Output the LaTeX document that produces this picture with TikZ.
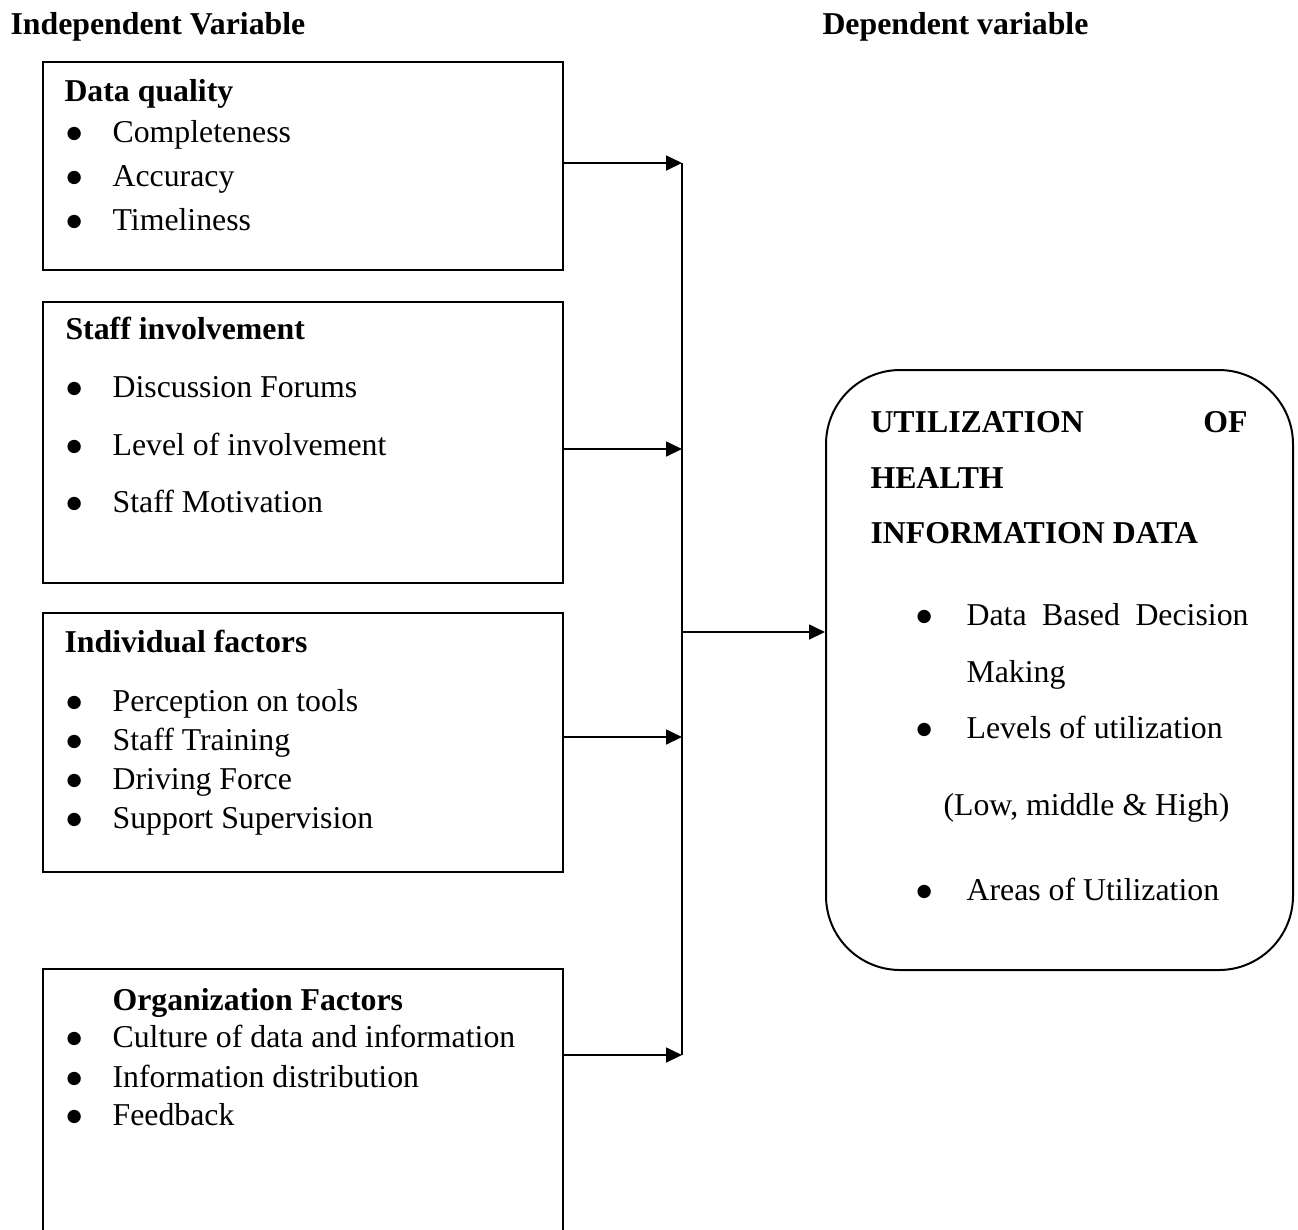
\documentclass[tikz,border=0pt]{standalone}
\usepackage{fontspec}
\setmainfont{Liberation Serif}
\newfontfamily\dvfont{DejaVu Sans}
\usetikzlibrary{arrows.meta,fit}
\newcommand\bigbul{\raisebox{1.2pt}{\dvfont\fontsize{6.6}{7}\selectfont ●}}
\newcommand\bl[1]{\makebox[17.4pt][l]{\bigbul}#1}
\newcommand\br[1]{\makebox[18.9pt][l]{\bigbul}#1}
\begin{document}
\begin{tikzpicture}[x=0.3774pt,y=-0.3774pt,
  lbl/.style={anchor=base west,inner sep=0pt,font=\fontsize{12}{14}\selectfont},
  hd/.style={anchor=base west,inner sep=0pt,font=\fontsize{12}{14}\selectfont\bfseries},
  box/.style={draw,line width=0.75pt,inner sep=0pt},
  arr/.style={line width=0.75pt,-{Triangle[length=6pt,width=5.6pt]}},
  link/.style={line width=0.75pt}]
\useasboundingbox (0,0) rectangle (1298,1229);

% headers
\node[hd] (iv) at (10,34) {Independent Variable};
\node[hd] (dv) at (822,34) {Dependent variable};

% boxes
\node[box,fit={(43,62)(563,270)}] (b1) {};
\node[box,fit={(43,302)(563,583)}] (b2) {};
\node[box,fit={(43,613)(563,872)}] (b3) {};
\node[box,fit={(43,969)(563,1250)}] (b4) {};
\node[box,rounded corners=28pt,fit={(826,370)(1293,970)}] (ub) {};

% box 1
\node[hd] (t1) at (64,101) {Data quality};
\node[lbl] (t1a) at (66,142) {\bl{Completeness}};
\node[lbl] (t1b) at (66,186) {\bl{Accuracy}};
\node[lbl] (t1c) at (66,230) {\bl{Timeliness}};

% box 2
\node[hd] (t2) at (65,339) {Staff involvement};
\node[lbl] (t2a) at (66,397) {\bl{Discussion Forums}};
\node[lbl] (t2b) at (66,455) {\bl{Level of involvement}};
\node[lbl] (t2c) at (66,512) {\bl{Staff Motivation}};

% box 3
\node[hd] (t3) at (64,652) {Individual factors};
\node[lbl] (t3a) at (66,711) {\bl{Perception on tools}};
\node[lbl] (t3b) at (66,750) {\bl{Staff Training}};
\node[lbl] (t3c) at (66,789) {\bl{Driving Force}};
\node[lbl] (t3d) at (66,828) {\bl{Support Supervision}};

% box 4
\node[hd] (t4) at (112,1010) {Organization Factors};
\node[lbl] (t4a) at (66,1047) {\bl{Culture of data and information}};
\node[lbl] (t4b) at (66,1087) {\bl{Information distribution}};
\node[lbl] (t4c) at (66,1125) {\bl{Feedback}};

% dependent box
\node[hd] (u1) at (870,432) {\makebox[142.3pt][l]{UTILIZATION\hfill OF}};
\node[hd] (u2) at (870,488) {HEALTH};
\node[hd] (u3) at (870,543) {INFORMATION DATA};
\node[lbl] (u4) at (916,625) {\br{\makebox[106.4pt][s]{Data Based Decision}}};
\node[lbl] (u5) at (966,682) {Making};
\node[lbl] (u6) at (916,738) {\br{Levels of utilization}};
\node[lbl] (u7) at (943,815) {(Low, middle \& High)};
\node[lbl] (u8) at (916,900) {\br{Areas of Utilization}};

% connectors
\coordinate (j1) at (682,163);
\coordinate (j2) at (682,449);
\coordinate (j3) at (682,737);
\coordinate (j4) at (682,1055);
\coordinate (jm) at (682,632);
\draw[link] (j1) -- (j4);
\draw[arr] (b1.east |- j1) -- (j1);
\draw[arr] (b2.east |- j2) -- (j2);
\draw[arr] (b3.east |- j3) -- (j3);
\draw[arr] (b4.east |- j4) -- (j4);
\draw[arr] (jm) -- (ub.west |- jm);
\end{tikzpicture}
\end{document}
